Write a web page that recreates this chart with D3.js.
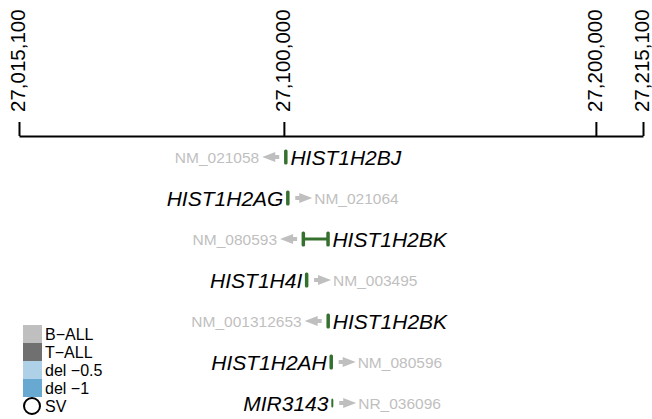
<!DOCTYPE html>
<html>
<head>
<meta charset="utf-8">
<script src="https://cdn.jsdelivr.net/npm/d3@7"></script>
<style>
  body { margin: 0; background: #fff; }
  svg { font-family: "Liberation Sans", Arial, Helvetica, sans-serif; }
</style>
</head>
<body>
<div id="chart"></div>
<script>
// genomic window and axis ticks
const domainRange = [27015100, 27215100];
const tickPositions = [27015100, 27100000, 27200000, 27215100];

// one row per transcript
const genes = ["HIST1H2BJ", "HIST1H2AG", "HIST1H2BK", "HIST1H4I", "HIST1H2BK", "HIST1H2AH", "MIR3143"];
const refseqs = ["NM_021058", "NM_021064", "NM_080593", "NM_003495", "NM_001312653", "NM_080596", "NR_036096"];
const strands = ["-", "+", "-", "+", "-", "+", "+"];
const txStarts = [27100354, 27101050, 27106070, 27107090, 27113950, 27114950, 27115480];
const txEnds = [27100880, 27101480, 27114350, 27107500, 27114450, 27115400, 27115565];
const exonStarts = [[27100354], [27101050], [27106070, 27113950], [27107090], [27113950], [27114950], [27115480]];
const exonEnds = [[27100880], [27101480], [27106400, 27114350], [27107500], [27114450], [27115400], [27115565]];
const nonCoding = [false, false, false, false, false, false, true];

// legend
const legendLabels = ["B\u2212ALL", "T\u2212ALL", "del \u22120.5", "del \u22121"];
const legendColors = ["#bfbfbf", "#707070", "#aed1e8", "#67a9d0"];

const width = 652, height = 419;
const green = "#36702f";
const grey = "#bfbfbf";

const svg = d3.select("#chart").append("svg")
  .attr("width", width)
  .attr("height", height);

const x = d3.scaleLinear().domain(domainRange).range([19, 643]);
const y = d3.scaleLinear().domain([0, genes.length - 1]).range([157, 403]);

// axis along the top
const axisY = 136;
const axis = d3.axisTop(x)
  .tickValues(tickPositions)
  .tickSize(14)
  .tickSizeOuter(0)
  .tickFormat(d3.format(","));

const gAxis = svg.append("g")
  .attr("transform", "translate(0," + axisY + ")")
  .call(axis);

gAxis.select(".domain").attr("stroke", "#000").attr("stroke-width", 2);
gAxis.selectAll(".tick line").attr("stroke", "#000").attr("stroke-width", 2);
gAxis.selectAll(".tick text")
  .attr("transform", "rotate(-90)")
  .attr("x", 24)
  .attr("y", 0)
  .attr("dy", "0.28em")
  .attr("text-anchor", "start")
  .attr("font-size", "20.5px")
  .attr("font-family", "Liberation Sans, Arial, sans-serif")
  .attr("fill", "#000");

// gene rows
genes.forEach(function(g, i) {
  const cy = y(i);
  const row = svg.append("g");
  const x0 = x(txStarts[i]);
  const x1 = Math.max(x(txEnds[i]), x0 + 1);

  // intron line
  if (exonStarts[i].length > 1) {
    row.append("line")
      .attr("x1", x0).attr("x2", x1)
      .attr("y1", cy).attr("y2", cy)
      .attr("stroke", green).attr("stroke-width", 3);
  }

  // exons
  const h = nonCoding[i] ? 9 : 15;
  const w = nonCoding[i] ? 2 : 3.5;
  exonStarts[i].forEach(function(s, j) {
    const ex0 = x(s), ex1 = x(exonEnds[i][j]);
    const mid = (ex0 + ex1) / 2;
    const ww = Math.max(ex1 - ex0, w);
    row.append("rect")
      .attr("x", mid - ww / 2)
      .attr("y", cy - h / 2)
      .attr("width", ww)
      .attr("height", h)
      .attr("rx", 1.5)
      .attr("fill", green);
  });

  const left = Math.min(x0, x(exonStarts[i][0]) - 1.75);
  const right = Math.max(x1, x(exonEnds[i][exonEnds[i].length - 1]) + 1.75);

  const geneText = row.append("text")
    .attr("y", cy)
    .attr("dy", "0.36em")
    .attr("font-size", "21px")
    .attr("font-style", "italic")
    .attr("fill", "#000")
    .text(g);

  const refText = row.append("text")
    .attr("y", cy)
    .attr("dy", "0.36em")
    .attr("font-size", "15.5px")
    .attr("fill", grey)
    .text(refseqs[i]);

  let tip, dir;
  if (strands[i] === "-") {
    geneText.attr("x", right + 2).attr("text-anchor", "start");
    tip = left - 21; dir = 1;
    refText.attr("x", tip - 3).attr("text-anchor", "end");
  } else {
    geneText.attr("x", left - 2).attr("text-anchor", "end");
    tip = right + 22; dir = -1;
    refText.attr("x", tip + 2).attr("text-anchor", "start");
  }

  // strand arrow: head tapering into a short stem
  const p = d3.path();
  p.moveTo(tip, cy);
  p.lineTo(tip + dir * 13, cy - 5);
  p.lineTo(tip + dir * 13, cy - 2);
  p.lineTo(tip + dir * 17, cy - 2);
  p.lineTo(tip + dir * 17, cy + 2);
  p.lineTo(tip + dir * 13, cy + 2);
  p.lineTo(tip + dir * 13, cy + 5);
  p.closePath();
  row.append("path").attr("d", p.toString()).attr("fill", grey);
});

// legend
const legend = svg.append("g").attr("transform", "translate(23,325)");
const boxH = 18;
legend.selectAll("rect")
  .data(legendLabels)
  .enter()
  .append("rect")
  .attr("x", 0)
  .attr("y", function(d, i) { return i * boxH; })
  .attr("width", 19)
  .attr("height", boxH)
  .attr("fill", function(d, i) { return legendColors[i]; });

legend.selectAll("text.lab")
  .data(legendLabels.concat(["SV"]))
  .enter()
  .append("text")
  .attr("class", "lab")
  .attr("x", 22)
  .attr("y", function(d, i) { return i * boxH + boxH / 2; })
  .attr("dy", "0.36em")
  .attr("font-size", "16px")
  .attr("fill", "#000")
  .text(function(d) { return d; });

legend.append("circle")
  .attr("cx", 9)
  .attr("cy", 4 * boxH + boxH / 2)
  .attr("r", 8)
  .attr("fill", "none")
  .attr("stroke", "#000")
  .attr("stroke-width", 2);
</script>
</body>
</html>
